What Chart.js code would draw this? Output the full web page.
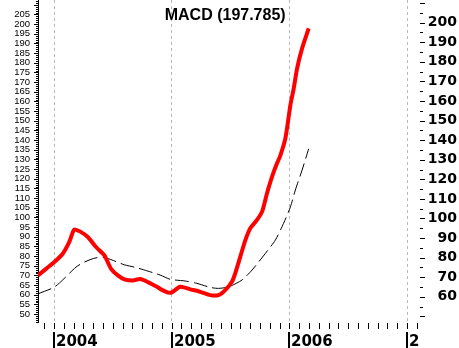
<!DOCTYPE html>
<html>
<head>
<meta charset="utf-8">
<script src="https://cdn.jsdelivr.net/npm/chart.js@4.4.1/dist/chart.umd.min.js"></script>
<style>
    html, body { margin: 0; padding: 0; background: #fff; }
    #wrap { width: 459px; height: 348px; position: relative; }
</style>
</head>
<body>
<div id="wrap"><canvas id="macdChart"></canvas></div>
<script>
const chartTitle = 'MACD (197.785)';

// dates as decimal years
const macdDates = [2003.864, 2003.932, 2004.003, 2004.074, 2004.130, 2004.173, 2004.230, 2004.287,
    2004.357, 2004.428, 2004.485, 2004.542, 2004.598, 2004.670, 2004.732, 2004.803, 2004.874,
    2004.930, 2004.993, 2005.072, 2005.157, 2005.243, 2005.328, 2005.398, 2005.455, 2005.512,
    2005.540, 2005.583, 2005.626, 2005.668, 2005.725, 2005.768, 2005.810, 2005.853, 2005.895,
    2005.923, 2005.966, 2006.009, 2006.037, 2006.066, 2006.108, 2006.164];
const macdValues = [70.0, 73.4, 76.9, 81.2, 87.3, 93.8, 92.4, 89.9,
    84.7, 80.4, 73.4, 70.0, 68.0, 67.4, 68.1, 66.4, 64.1,
    62.1, 61.0, 64.1, 62.8, 61.5, 59.8, 59.8, 62.4, 66.7,
    71.1, 79.7, 88.3, 94.4, 98.7, 103.0, 112.5, 121.1, 128.0,
    132.0, 140.9, 158.2, 166.8, 177.2, 187.5, 197.785];

const signalDates = [2003.864, 2003.989, 2004.045, 2004.187, 2004.258, 2004.357, 2004.443, 2004.598,
    2004.683, 2004.789, 2004.902, 2004.987, 2005.115, 2005.214, 2005.328, 2005.398, 2005.483,
    2005.597, 2005.683, 2005.796, 2005.881, 2005.951, 2006.009, 2006.051, 2006.108, 2006.164];
const signalValues = [60.5, 63.5, 66.0, 74.3, 76.9, 79.1, 79.0, 75.5,
    74.3, 72.4, 70.2, 68.0, 67.1, 65.9, 63.8, 63.3, 64.1,
    67.6, 72.8, 81.4, 88.3, 97.0, 105.5, 114.2, 124.5, 135.5];

const leftTicks = [50, 55, 60, 65, 70, 75, 80, 85, 90, 95, 100, 105, 110, 115, 120, 125, 130, 135,
    140, 145, 150, 155, 160, 165, 170, 175, 180, 185, 190, 195, 200, 205];
const rightTicks = [60, 70, 80, 90, 100, 110, 120, 130, 140, 150, 160, 170, 180, 190, 200];
const yearTicks = [2004, 2005, 2006, 2007];
const yearLabels = ['2004', '2005', '2006', '2007'];

function noPadding(s) {
    s.paddingTop = 0;
    s.paddingBottom = 0;
    s.paddingLeft = 0;
    s.paddingRight = 0;
}

// tick marks, month ticks, year labels and the title
const axisMarks = {
    id: 'axisMarks',
    afterDraw(chart) {
        const {ctx, chartArea: area, scales: {x, y, y2}} = chart;
        ctx.save();
        ctx.strokeStyle = '#000';
        ctx.lineWidth = 1;
        ctx.beginPath();
        for (let v = Math.ceil(y.min); v <= y.max; v++) {
            const py = Math.round(y.getPixelForValue(v)) + 0.5;
            const len = v % 5 === 0 ? 4 : 2;
            ctx.moveTo(area.left - len, py);
            ctx.lineTo(area.left, py);
        }
        for (let v = 50; v <= y2.max; v += 5) {
            const py = Math.round(y2.getPixelForValue(v)) + 0.5;
            const len = v % 10 === 0 ? 5 : 3;
            ctx.moveTo(area.right, py);
            ctx.lineTo(area.right + len, py);
        }
        for (let m = Math.ceil(x.min * 12); m / 12 <= x.max; m++) {
            const px = Math.round(x.getPixelForValue(m / 12)) + 0.5;
            ctx.moveTo(px, area.bottom + 1);
            ctx.lineTo(px, area.bottom + 7);
        }
        ctx.stroke();

        ctx.save();
        ctx.beginPath();
        ctx.rect(0, area.bottom, area.right, chart.height - area.bottom);
        ctx.clip();
        ctx.fillStyle = '#000';
        ctx.font = 'bold 15px "DejaVu Sans"';
        ctx.textBaseline = 'alphabetic';
        ctx.textAlign = 'left';
        yearTicks.forEach((yr, i) => {
            const px = Math.round(x.getPixelForValue(yr));
            ctx.fillRect(px - 1, area.bottom + 10, 2, chart.height - area.bottom - 10);
            ctx.fillText(yearLabels[i], px + 2, chart.height - 2);
        });
        ctx.restore();

        ctx.fillStyle = '#000';
        ctx.font = 'bold 16px "Liberation Sans"';
        ctx.textAlign = 'center';
        ctx.textBaseline = 'alphabetic';
        ctx.fillText(chartTitle, area.left + area.width * 0.49, 20);
        ctx.restore();
    }
};

const ctx = document.getElementById('macdChart').getContext('2d');
new Chart(ctx, {
    type: 'line',
    data: {
        datasets: [{
            label: 'MACD',
            data: macdDates.map((d, i) => ({x: d, y: macdValues[i]})),
            borderColor: '#ff0000',
            borderWidth: 4,
            tension: 0.25,
            pointRadius: 0,
            fill: false,
            order: 1
        }, {
            label: 'Signal',
            data: signalDates.map((d, i) => ({x: d, y: signalValues[i]})),
            borderColor: '#000000',
            borderWidth: 1,
            borderDash: [14, 5],
            tension: 0.25,
            pointRadius: 0,
            fill: false,
            order: 2
        }]
    },
    options: {
        responsive: true,
        maintainAspectRatio: false,
        animation: false,
        layout: { autoPadding: false, padding: { top: 0, left: 0, right: 2, bottom: 0 } },
        plugins: {
            legend: { display: false },
            tooltip: { enabled: false },
            title: { display: false }
        },
        scales: {
            x: {
                type: 'linear',
                min: 2003.864,
                max: 2007.11,
                afterBuildTicks: (s) => { s.ticks = yearTicks.map(v => ({value: v})); },
                ticks: { display: false },
                grid: {
                    color: '#b8b8b8',
                    drawTicks: false,
                    lineWidth: 1
                },
                border: { display: false, dash: [3, 3] },
                afterFit: (s) => { s.height = 26; noPadding(s); }
            },
            y: {
                position: 'left',
                min: 45.9,
                max: 212.5,
                afterBuildTicks: (s) => { s.ticks = leftTicks.map(v => ({value: v})); },
                ticks: {
                    autoSkip: false,
                    padding: 8,
                    color: '#000',
                    font: { family: 'Liberation Sans', size: 9.5 }
                },
                grid: { display: false, drawTicks: false },
                border: { display: true, color: '#000', width: 1 },
                afterFit: (s) => { s.width = 38; noPadding(s); }
            },
            y2: {
                position: 'right',
                min: 47.1,
                max: 211.6,
                afterBuildTicks: (s) => { s.ticks = rightTicks.map(v => ({value: v})); },
                ticks: {
                    autoSkip: false,
                    crossAlign: 'far',
                    color: '#000',
                    font: { family: 'DejaVu Sans', size: 14, weight: 'bold' }
                },
                grid: { display: false, drawTicks: false },
                border: { display: false },
                afterFit: (s) => { s.width = 37; noPadding(s); }
            }
        }
    },
    plugins: [axisMarks]
});
</script>
</body>
</html>
